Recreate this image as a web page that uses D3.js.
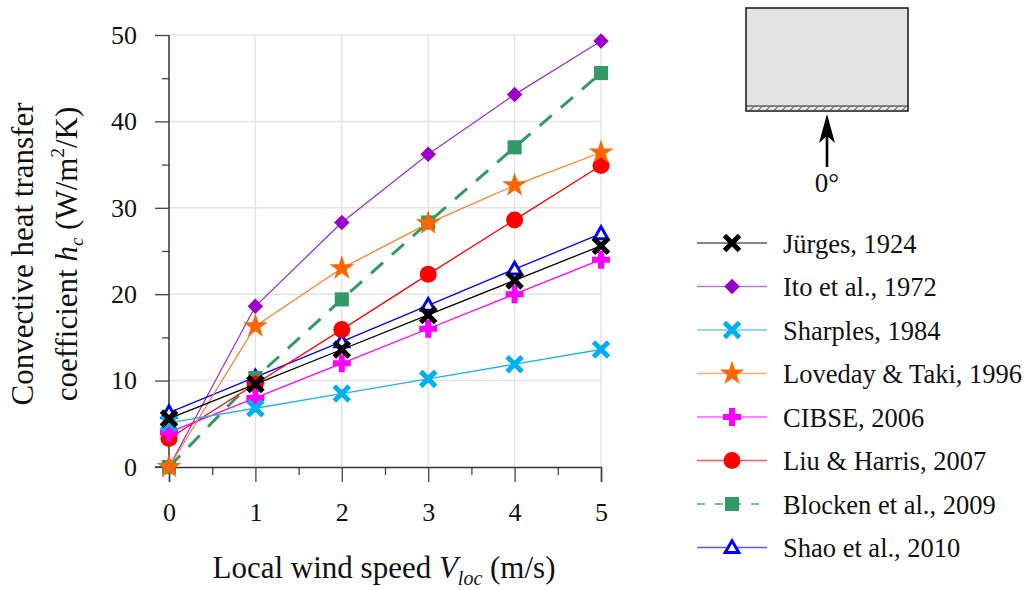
<!DOCTYPE html>
<html lang="en">
<head>
    <meta charset="UTF-8">
    <title>Convective heat transfer</title>
    <script src="https://d3js.org/d3.v7.min.js"></script>
    <style>
        body { margin: 0; background: #fff; }
        text {
            font-family: 'Liberation Serif', serif;
            font-size: 26px;
            fill: #111;
        }
    </style>
</head>
<body>
<script>

    const width  = 1034;
    const height = 590;

    const speeds = [0, 1, 2, 3, 4, 5];

    const jurges   = [5.6, 9.6, 13.6, 17.6, 21.6, 25.6];
    const ito      = [0, 18.6, 28.3, 36.2, 43.1, 49.3];
    const sharples = [5.1, 6.8, 8.5, 10.2, 11.9, 13.6];
    const loveday  = [0, 16.3, 23.0, 28.2, 32.6, 36.4];
    const cibse    = [4, 8, 12, 16, 20, 24];
    const liu      = [3.3, 9.6, 15.9, 22.3, 28.6, 34.9];
    const blocken  = [0, 10.3, 19.4, 28.3, 37.0, 45.6];
    const shao     = [6.3, 10.4, 14.5, 18.7, 22.9, 27.0];

    const seriesNames = [
        'Jürges, 1924',
        'Ito et al., 1972',
        'Sharples, 1984',
        'Loveday & Taki, 1996',
        'CIBSE, 2006',
        'Liu & Harris, 2007',
        'Blocken et al., 2009',
        'Shao et al., 2010'
    ];
    const seriesValues = [jurges, ito, sharples, loveday, cibse, liu, blocken, shao];

    const styles = [
        {line: '#000000', mark: '#000000', shape: 'x'},
        {line: '#9933cc', mark: '#9900cc', shape: 'diamond'},
        {line: '#1fb4e8', mark: '#00b0f0', shape: 'xc'},
        {line: '#ff7f27', mark: '#ff6600', shape: 'star'},
        {line: '#ff00ff', mark: '#ff00ff', shape: 'plus'},
        {line: '#ff0000', mark: '#ff0000', shape: 'circle'},
        {line: '#339966', mark: '#339966', shape: 'square', dash: '16,12'},
        {line: '#0000ff', mark: '#0000ff', shape: 'triangle'}
    ];

    const x = d3.scaleLinear().domain([0, 5]).range([169, 601]);
    const y = d3.scaleLinear().domain([0, 50]).range([467, 35]);

    const svg = d3.select("body")
            .append("svg")
            .attr("width", width)
            .attr("height", height);

    // grid
    svg.append("g").selectAll("line")
            .data(d3.range(10, 51, 10)).enter()
            .append("line")
            .attr("x1", x(0)).attr("x2", x(5))
            .attr("y1", d => y(d)).attr("y2", d => y(d))
            .attr("stroke", "#e4e4e4").attr("stroke-width", 1.5);
    svg.append("g").selectAll("line")
            .data(d3.range(1, 6)).enter()
            .append("line")
            .attr("y1", y(0)).attr("y2", y(50))
            .attr("x1", d => x(d)).attr("x2", d => x(d))
            .attr("stroke", "#e4e4e4").attr("stroke-width", 1.5);

    // axes
    const yMinor = svg.append("g")
            .attr("transform", "translate(" + x(0) + ",0)")
            .call(d3.axisLeft(y).tickValues(d3.range(5, 50, 10)).tickSize(7).tickFormat(""));
    const yAxis = svg.append("g")
            .attr("transform", "translate(" + x(0) + ",0)")
            .call(d3.axisLeft(y).tickValues(d3.range(0, 51, 10)).tickSize(14).tickPadding(18));
    const xMinor = svg.append("g")
            .attr("transform", "translate(0," + y(0) + ")")
            .call(d3.axisBottom(x).tickValues(d3.range(0.5, 5, 1)).tickSize(8).tickFormat(""));
    const xAxis = svg.append("g")
            .attr("transform", "translate(0," + y(0) + ")")
            .call(d3.axisBottom(x).tickValues(speeds).tickFormat(d3.format("d")).tickSize(15).tickPadding(21));

    [yMinor, yAxis, xMinor, xAxis].forEach(g => {
        g.select(".domain").attr("stroke", "#333").attr("stroke-width", 1.5);
        g.selectAll(".tick line").attr("stroke", "#444").attr("stroke-width", 1.3);
        g.selectAll(".tick text").style("font-size", "26px").attr("fill", "#111");
    });
    yAxis.select(".domain").attr("d", "M0," + y(50) + "V" + y(0) + "H-14");
    yMinor.select(".domain").remove();
    xMinor.select(".domain").remove();

    // markers
    function marker(g, shape, color) {
        if (shape === 'x' || shape === 'xc') {
            const s = 7.5;
            g.append("path")
                .attr("d", `M${-s},${-s}L${s},${s}M${-s},${s}L${s},${-s}`)
                .attr("stroke", color).attr("stroke-width", 5).attr("fill", "none");
        } else if (shape === 'plus') {
            const s = 9;
            g.append("path")
                .attr("d", `M${-s},0L${s},0M0,${-s}L0,${s}`)
                .attr("stroke", color).attr("stroke-width", 6).attr("fill", "none");
        } else if (shape === 'diamond') {
            g.append("path")
                .attr("d", d3.symbol(d3.symbolSquare, 120)())
                .attr("transform", "rotate(45)")
                .attr("fill", color);
        } else if (shape === 'star') {
            g.append("path")
                .attr("d", d3.symbol(d3.symbolStar, 190)())
                .attr("fill", color);
        } else if (shape === 'circle') {
            g.append("circle").attr("r", 8.5).attr("fill", color);
        } else if (shape === 'square') {
            g.append("path")
                .attr("d", d3.symbol(d3.symbolSquare, 200)())
                .attr("fill", color);
        } else if (shape === 'triangle') {
            g.append("path")
                .attr("d", d3.symbol(d3.symbolTriangle, 80)())
                .attr("transform", "translate(0,1)")
                .attr("fill", "#fff").attr("stroke", color).attr("stroke-width", 3);
        }
    }

    const line = d3.line()
            .x((d, i) => x(speeds[i]))
            .y(d => y(d));

    // Ito at the bottom, then the rest so that Jürges ends on top
    const order = [1, 7, 6, 5, 4, 3, 2, 0];

    order.forEach(k => {
        const st = styles[k];
        const g = svg.append("g");
        g.append("path")
            .datum(seriesValues[k])
            .attr("d", line)
            .attr("fill", "none")
            .attr("stroke", st.line)
            .attr("stroke-width", st.dash ? 3 : 1.3)
            .attr("stroke-dasharray", st.dash || null);
        seriesValues[k].forEach((v, i) => {
            const m = g.append("g")
                .attr("transform", "translate(" + x(speeds[i]) + "," + y(v) + ")");
            marker(m, st.shape, st.mark);
        });
    });

    // legend
    const legend = svg.append("g");
    seriesNames.forEach((name, i) => {
        const st = styles[i];
        const ly = 243 + i * 43.5;
        const row = legend.append("g").attr("transform", "translate(0," + ly + ")");
        row.append("line")
            .attr("x1", 697).attr("x2", 767)
            .attr("stroke", st.line)
            .attr("stroke-opacity", 0.65)
            .attr("stroke-width", st.dash ? 2 : 1.3)
            .attr("stroke-dasharray", st.dash ? "8,10" : null);
        marker(row.append("g").attr("transform", "translate(732,0)"), st.shape, st.mark);
        row.append("text")
            .attr("x", 783)
            .attr("y", 9.5)
            .style("font-size", "26.5px")
            .text(name);
    });

    // inset sketch
    const inset = svg.append("g");
    inset.append("rect")
        .attr("x", 746).attr("y", 8)
        .attr("width", 162).attr("height", 103)
        .attr("fill", "#e3e3e3")
        .attr("stroke", "#222").attr("stroke-width", 1.6);
    inset.append("line")
        .attr("x1", 746).attr("x2", 908)
        .attr("y1", 106).attr("y2", 106)
        .attr("stroke", "#222").attr("stroke-width", 1);
    inset.selectAll(".hatch")
        .data(d3.range(750, 906, 8)).enter()
        .append("line")
        .attr("x1", d => d).attr("y1", 110.5)
        .attr("x2", d => d + 4).attr("y2", 106.5)
        .attr("stroke", "#333").attr("stroke-width", 1);
    inset.append("line")
        .attr("x1", 827).attr("x2", 827)
        .attr("y1", 167).attr("y2", 130)
        .attr("stroke", "#000").attr("stroke-width", 2.6);
    inset.append("path")
        .attr("d", "M827,114L835,143L827,136L819,143Z")
        .attr("fill", "#000");
    inset.append("text")
        .attr("x", 827).attr("y", 192)
        .attr("text-anchor", "middle")
        .style("font-size", "27px")
        .text("0°");

    // axis titles
    const ytitle = svg.append("text")
        .attr("transform", "translate(33,254) rotate(-90)")
        .attr("text-anchor", "middle")
        .style("font-size", "31px");
    ytitle.text("Convective heat transfer");

    const ytitle2 = svg.append("text")
        .attr("transform", "translate(77,254) rotate(-90)")
        .attr("text-anchor", "middle")
        .style("font-size", "31px");
    ytitle2.append("tspan").text("coefficient ");
    ytitle2.append("tspan").style("font-style", "italic").text("h");
    ytitle2.append("tspan").attr("dy", 6).style("font-size", "19px").style("font-style", "italic").text("c");
    ytitle2.append("tspan").attr("dy", -6).text(" (W/m");
    ytitle2.append("tspan").attr("dy", -13).style("font-size", "19px").text("2");
    ytitle2.append("tspan").attr("dy", 13).text("/K)");

    const xtitle = svg.append("text")
        .attr("x", 384).attr("y", 578)
        .attr("text-anchor", "middle")
        .style("font-size", "31px");
    xtitle.append("tspan").text("Local wind speed ");
    xtitle.append("tspan").style("font-style", "italic").text("V");
    xtitle.append("tspan").attr("dy", 7).style("font-size", "20px").style("font-style", "italic").text("loc");
    xtitle.append("tspan").attr("dy", -7).text(" (m/s)");

</script>
</body>
</html>
